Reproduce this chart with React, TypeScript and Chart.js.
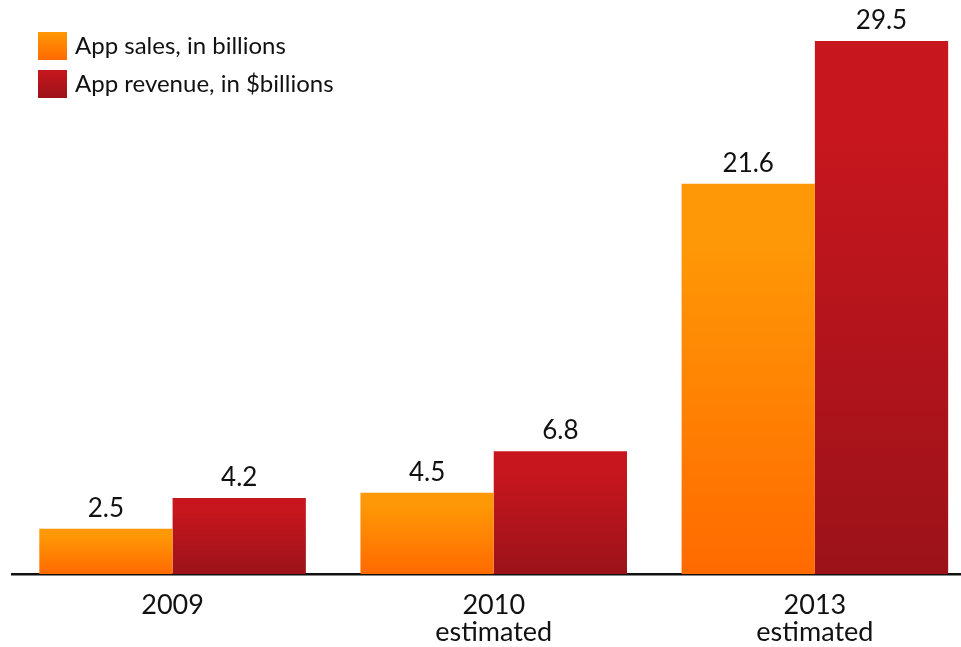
import React, { useEffect, useRef } from "react";
import { Chart, registerables } from "chart.js";

Chart.register(...registerables);

const categories = ["2009", "2010", "2013"];
const tickLabels: string[][] = [["2009"], ["2010", "estimated"], ["2013", "estimated"]];
const appSales = [2.5, 4.5, 21.6];
const appRevenue = [4.2, 6.8, 29.5];
const seriesNames = ["App sales, in billions", "App revenue, in $billions"];

const FONT = "Lato, 'Open Sans', sans-serif";

const gradients = [
  ["#ff9806", "#ff6a00"],
  ["#c8161e", "#9c1219"],
];

function barFill(ctx: any, di: number) {
  const chart = ctx.chart;
  const y = chart.scales?.y;
  if (!y || ctx.type !== "data") return gradients[di][1];
  const v = ctx.parsed?.y ?? 0;
  const top = y.getPixelForValue(v);
  const base = y.getPixelForValue(0);
  if (!isFinite(top) || !isFinite(base) || top === base) return gradients[di][1];
  const g = chart.ctx.createLinearGradient(0, top, 0, base);
  g.addColorStop(0, gradients[di][0]);
  g.addColorStop(0.15, gradients[di][0]);
  g.addColorStop(1, gradients[di][1]);
  return g;
}

const valueLabels = {
  id: "valueLabels",
  afterDatasetsDraw(chart: any) {
    const c = chart.ctx;
    c.save();
    c.font = `26px ${FONT}`;
    c.fillStyle = "#111";
    c.textAlign = "center";
    c.textBaseline = "alphabetic";
    chart.data.datasets.forEach((ds: any, i: number) => {
      const meta = chart.getDatasetMeta(i);
      meta.data.forEach((el: any, j: number) => {
        const v = ds.data[j].y;
        c.fillText(String(v), el.x, el.y - 12);
      });
    });
    c.restore();
  },
};

const customLegend = {
  id: "customLegend",
  afterDraw(chart: any) {
    const c = chart.ctx;
    c.save();
    const tops = [32, 70];
    chart.data.datasets.forEach((ds: any, i: number) => {
      const t = tops[i];
      const g = c.createLinearGradient(0, t, 0, t + 28);
      g.addColorStop(0, gradients[i][0]);
      g.addColorStop(1, gradients[i][1]);
      c.fillStyle = g;
      c.fillRect(38, t, 29, 28);
      c.font = `24px ${FONT}`;
      c.fillStyle = "#111";
      c.textAlign = "left";
      c.textBaseline = "middle";
      c.fillText(ds.label, 75, t + 14);
    });
    c.restore();
  },
};

export default function App() {
  const ref = useRef<HTMLCanvasElement>(null);
  useEffect(() => {
    if (!ref.current) return;
    const chart = new Chart(ref.current, {
      type: "bar",
      data: {
        datasets: [
          {
            label: seriesNames[0],
            data: appSales.map((v, i) => ({ x: i, y: v })),
            backgroundColor: (ctx: any) => barFill(ctx, 0),
            borderWidth: 0,
          },
          {
            label: seriesNames[1],
            data: appRevenue.map((v, i) => ({ x: i, y: v })),
            backgroundColor: (ctx: any) => barFill(ctx, 1),
            borderWidth: 0,
          },
        ],
      },
      options: {
        animation: false,
        responsive: true,
        maintainAspectRatio: false,
        layout: { padding: { left: 12, top: 0, right: 0, bottom: 0 } },
        datasets: { bar: { categoryPercentage: 0.83, barPercentage: 1 } },
        plugins: { legend: { display: false }, tooltip: { enabled: false } },
        scales: {
          x: {
            type: "linear",
            offset: false,
            min: -0.5,
            max: 2.455,
            grid: { display: false, drawTicks: false, offset: false },
            border: { display: true, color: "#111", width: 2.5 },
            afterBuildTicks: (scale: any) => {
              scale.ticks = categories.map((_, i) => ({ value: i }));
            },
            afterFit: (scale: any) => {
              scale.height = 73;
            },
            ticks: {
              autoSkip: false,
              maxRotation: 0,
              padding: 17,
              color: "#111",
              font: { family: FONT, size: 27, lineHeight: 1.03 },
              callback: (value: any) => tickLabels[value as number] ?? "",
            },
          },
          y: {
            display: false,
            min: 0,
            max: 31.77,
          },
        },
      },
      plugins: [valueLabels, customLegend],
    } as any);
    return () => chart.destroy();
  }, []);
  return (
    <div style={{ position: "absolute", left: 0, top: 0, width: 961, height: 647, background: "#fff" }}>
      <canvas ref={ref} />
    </div>
  );
}
